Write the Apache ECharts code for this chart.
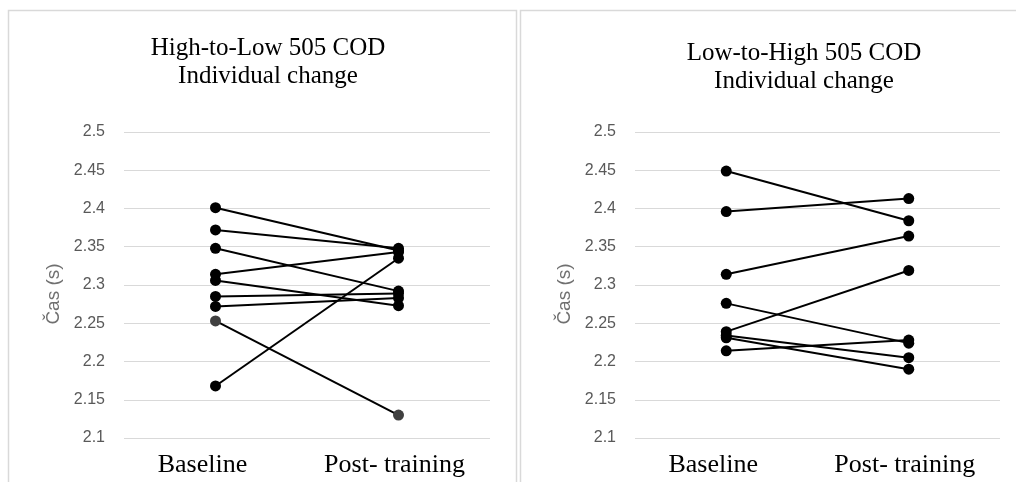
<!DOCTYPE html>
<html>
<head>
<meta charset="utf-8">
<script src="https://cdn.jsdelivr.net/npm/echarts@6/dist/echarts.min.js"></script>
<style>
html,body{margin:0;padding:0;background:#fff;}
#c{width:1016px;height:482px;}
</style>
</head>
<body>
<div id="c"></div>
<script>
var categories = ['Baseline', 'Post- training'];
var yTicks = [2.1, 2.15, 2.2, 2.25, 2.3, 2.35, 2.4, 2.45, 2.5];
var titleLeft = 'High-to-Low 505 COD\nIndividual change';
var titleRight = 'Low-to-High 505 COD\nIndividual change';
var yName = 'Čas (s)';

// High-to-Low: baseline and post-training per individual
var hlBaseline = [2.401, 2.372, 2.348, 2.314, 2.306, 2.285, 2.272, 2.253, 2.168];
var hlPost     = [2.345, 2.348, 2.292, 2.343, 2.273, 2.289, 2.283, 2.130, 2.335];
var hlGrey     = [false, false, false, false, false, false, false, true, false];

// Low-to-High
var lhBaseline = [2.449, 2.396, 2.314, 2.276, 2.239, 2.234, 2.231, 2.214];
var lhPost     = [2.384, 2.413, 2.364, 2.224, 2.319, 2.205, 2.190, 2.228];

var chart = echarts.init(document.getElementById('c'), null, {renderer: 'canvas'});

function yAxisCfg(gi) {
  return {
    type: 'value', gridIndex: gi, min: 2.1, max: 2.5, interval: 0.05,
    name: yName, nameLocation: 'middle', nameGap: 61, nameRotate: 90,
    nameTextStyle: {color: '#707070', fontSize: 19, fontFamily: 'Liberation Sans', padding: [0, 18, 0, 0]},
    axisLine: {show: false}, axisTick: {show: false},
    axisLabel: {color: '#595959', fontSize: 16, fontFamily: 'Liberation Sans', margin: 19,
      formatter: function (v) { return String(Math.round(v * 100) / 100); }},
    splitLine: {lineStyle: {color: '#d9d9d9', width: 1}}
  };
}
function xAxisCfg(gi) {
  return {
    type: 'category', gridIndex: gi, data: categories, boundaryGap: true,
    axisLine: {show: false}, axisTick: {show: false},
    axisLabel: {interval: 0, hideOverlap: false, margin: 14,
      formatter: function (v, i) { return i === 0 ? '{a|' + v + '}' : '{b|' + v + '}'; },
      rich: {
        a: {color: '#000', fontSize: 26, fontFamily: 'Liberation Serif', padding: [0, 26, 0, 0]},
        b: {color: '#000', fontSize: 26, fontFamily: 'Liberation Serif', padding: [0, 8, 0, 0]}
      }}
  };
}

var series = [];
function addSeries(base, post, gi, grey) {
  for (var i = 0; i < base.length; i++) {
    var g = grey && grey[i];
    series.push({
      type: 'line', xAxisIndex: gi, yAxisIndex: gi,
      data: [base[i], post[i]],
      symbol: 'circle', symbolSize: 11, showSymbol: true,
      lineStyle: {color: '#000', width: 2},
      itemStyle: {color: g ? '#404040' : '#000'},
      z: g ? 3 : 2,
      silent: true
    });
  }
}
addSeries(hlBaseline, hlPost, 0, hlGrey);
addSeries(lhBaseline, lhPost, 1, null);

chart.setOption({
  animation: false,
  backgroundColor: '#fff',
  graphic: [
    {type: 'rect', shape: {x: 8.5, y: 10.5, width: 508, height: 490}, style: {fill: 'none', stroke: '#d9d9d9', lineWidth: 1.5}, z: -10},
    {type: 'rect', shape: {x: 520.5, y: 10.5, width: 520, height: 490}, style: {fill: 'none', stroke: '#d9d9d9', lineWidth: 1.5}, z: -10}
  ],
  title: [
    {text: titleLeft, left: 263, top: 29, textAlign: 'center',
     textStyle: {fontFamily: 'Liberation Serif', fontSize: 25, fontWeight: 'normal', color: '#000', lineHeight: 28}},
    {text: titleRight, left: 799, top: 34, textAlign: 'center',
     textStyle: {fontFamily: 'Liberation Serif', fontSize: 25, fontWeight: 'normal', color: '#000', lineHeight: 28}}
  ],
  grid: [
    {left: 124, right: 526, top: 132, bottom: 44},
    {left: 635, right: 16, top: 132, bottom: 44}
  ],
  xAxis: [xAxisCfg(0), xAxisCfg(1)],
  yAxis: [yAxisCfg(0), yAxisCfg(1)],
  series: series
});
</script>
</body>
</html>
